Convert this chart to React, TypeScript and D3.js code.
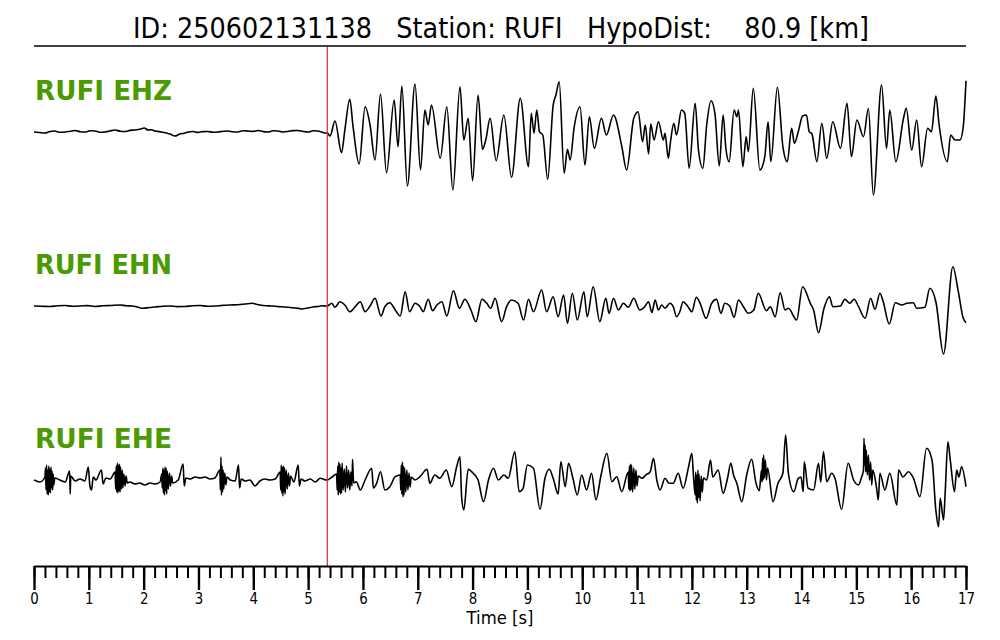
import React, { useEffect, useRef } from "react";
import * as d3 from "d3";

type Sample = [number, number]; // [time (s), amplitude]

const TITLE = "ID: 250602131138   Station: RUFI   HypoDist:    80.9 [km]";
const CHANNELS = ["RUFI EHZ", "RUFI EHN", "RUFI EHE"];
const PICK_TIME = 5.35;
const MAJOR_TICKS = [0, 1, 2, 3, 4, 5, 6, 7, 8, 9, 10, 11, 12, 13, 14, 15, 16, 17];
const X_LABEL = "Time [s]";

const EHZ: Sample[] = [
  [0.00, 0], [0.10, -0.5], [0.20, -1], [0.29, 0.5], [0.38, 1], [0.47, -0.3], [0.57, 0], [0.66, 0.8],
  [0.75, 1.5], [0.84, 0.3], [0.93, 0], [1.02, 1.2], [1.11, 1], [1.20, -0.2], [1.29, 0], [1.38, 1],
  [1.48, 2], [1.57, 0.8], [1.66, 0.5], [1.75, 1.6], [1.84, 2], [1.95, 3], [2.01, 4], [2.08, 2],
  [2.14, 2.3], [2.21, 1], [2.33, 0], [2.40, -0.8], [2.48, -2], [2.57, -4], [2.66, -2], [2.74, -1.2],
  [2.81, 0], [2.90, 0.5], [2.99, -0.5], [3.08, 0.4], [3.17, 0.5], [3.27, -0.3], [3.36, 0], [3.45, 0.8],
  [3.54, 1], [3.63, 0.2], [3.72, 0], [3.81, 1.3], [3.90, 1], [4.00, 0.6], [4.09, 1.5], [4.18, 0.4],
  [4.27, 0], [4.36, 1.2], [4.45, 1], [4.54, 0], [4.63, 0.5], [4.72, 1.4], [4.82, 1.5], [4.91, 0.5],
  [5.00, 0], [5.09, 1.2], [5.18, 1], [5.25, 0], [5.31, -1],
  [5.35, -1], [5.40, -4], [5.49, 11], [5.61, -20.7], [5.67, 2], [5.76, 32.7], [5.82, 5.3], [5.93, -32],
  [6.04, 25.3], [6.13, 7], [6.22, -28], [6.32, 38], [6.43, -40.7], [6.57, 32], [6.64, -14.7], [6.71, 46],
  [6.81, -54], [6.95, 48], [7.05, -38], [7.13, 22], [7.19, 7], [7.25, 27], [7.41, -26.3], [7.53, 25.3],
  [7.64, -58], [7.77, 45.3], [7.84, -8], [7.92, 13.7], [8.00, -48.7], [8.10, 37], [8.18, -17.3], [8.24, -8],
  [8.32, 13.7], [8.43, -28.7], [8.57, 17], [8.71, -45.3], [8.87, 33.7], [9.02, -34.7], [9.07, 18.7], [9.12, -1.3],
  [9.17, 22], [9.22, 0.3], [9.28, -3], [9.37, -47.3], [9.47, 27], [9.52, 37], [9.58, 50.3], [9.67, -41.3],
  [9.73, -17.3], [9.78, -28], [9.85, 3.7], [9.96, 25.3], [10.05, -33], [10.13, 15.3], [10.22, -16.3], [10.35, 13.7],
  [10.44, -3], [10.57, 17], [10.72, -14], [10.81, -38], [10.94, 13.7], [11.02, 20.3], [11.10, -9.7], [11.15, 7],
  [11.21, -22], [11.25, 8], [11.31, -8], [11.39, 10.3], [11.48, -8], [11.51, -1.3], [11.57, -26.3], [11.61, -9.7],
  [11.67, 8.7], [11.72, -3], [11.81, 22], [11.87, 18.7], [11.95, -36.3], [12.06, 28.7], [12.12, -18], [12.20, -36.3],
  [12.27, 7], [12.35, 31.3], [12.42, 18.7], [12.50, -34], [12.57, 17], [12.62, -16.3], [12.68, -29.7], [12.77, 22],
  [12.82, 15.3], [12.85, 22], [12.93, -34.7], [12.99, -4.7], [13.03, -19.7], [13.12, 43.7], [13.24, -38], [13.33, -24.7],
  [13.39, 10.3], [13.44, -29.7], [13.56, 44.7], [13.66, -14.7], [13.74, -29.7], [13.82, 3.7], [13.87, -11.3], [13.94, 0.3],
  [14.02, 16], [14.09, 17], [14.14, 0.3], [14.19, -2], [14.28, -29.7], [14.37, 8.7], [14.46, -26.3], [14.57, 10.3],
  [14.71, -16.3], [14.83, 28.7], [14.91, -24.7], [15.01, 12], [15.13, -4.7], [15.22, 23.7], [15.31, -63], [15.46, 47],
  [15.55, -16.3], [15.61, 22], [15.72, -29.7], [15.86, 13.7], [15.91, 23.7], [16.01, -18], [16.10, 12], [16.19, -34.7],
  [16.30, 3.7], [16.37, 0.3], [16.45, 36], [16.51, 7], [16.66, -29.7], [16.72, -3], [16.80, -8], [16.89, -8],
  [16.95, 5.3], [17.00, 51.3],
];

const EHN: Sample[] = [
  [0.00, 0], [0.15, -0.3], [0.29, -0.5], [0.43, 0.3], [0.57, 0.5], [0.70, -0.2], [0.84, 0], [0.98, 0.4],
  [1.11, -0.5], [1.25, 0.2], [1.39, 0.5], [1.57, 1], [1.68, 0.3], [1.79, 0], [1.90, -1.2], [1.99, -2.3],
  [2.10, -1.5], [2.21, -1], [2.35, -0.2], [2.48, 0], [2.61, -0.6], [2.75, -0.5], [2.89, 0.2], [3.03, 0.5],
  [3.16, -0.3], [3.30, 0], [3.44, 0.6], [3.58, 1], [3.72, 1.3], [3.85, 2], [3.98, 2.7], [4.05, 1.8],
  [4.12, 1], [4.23, 0.2], [4.34, 0], [4.46, -0.6], [4.58, -1], [4.67, -1.5], [4.76, -2], [4.83, -2.4],
  [4.89, -3], [4.97, -2.2], [5.04, -1.5], [5.11, -0.8], [5.18, -0.5], [5.25, 0.2], [5.31, 0],
  [5.35, 0], [5.43, 2.7], [5.49, -1.3], [5.58, 4.3], [5.67, 1], [5.76, -5.7], [5.86, -0.7], [5.95, 4.3],
  [6.04, -5.7], [6.13, 0], [6.22, 7.7], [6.33, -10], [6.40, -0.7], [6.49, 3.3], [6.59, -4], [6.68, -10],
  [6.77, 14.3], [6.85, -5.7], [6.95, 2.7], [7.04, -0.7], [7.10, -5.7], [7.19, 6.7], [7.27, -4.7], [7.35, 1],
  [7.44, 4.3], [7.53, -10], [7.65, 15.3], [7.76, -2.3], [7.86, 6.7], [7.97, -4], [8.06, -15.7], [8.17, 6.7],
  [8.26, 2.7], [8.33, -2.3], [8.41, 7.7], [8.53, -15.7], [8.62, -0.7], [8.71, 6], [8.83, 2.7], [8.93, -14],
  [9.02, 6.7], [9.11, -5.7], [9.26, 16], [9.35, -5.7], [9.47, 9.3], [9.56, -10.7], [9.66, 11], [9.73, -17.3],
  [9.82, 12.7], [9.91, -14], [10.03, 14.3], [10.09, -10.7], [10.20, 19.3], [10.32, -15.7], [10.43, 7.7], [10.49, -7.3],
  [10.57, 7.7], [10.66, -4], [10.75, 2.7], [10.84, -1.3], [10.94, 7.7], [11.05, -4], [11.14, -0.7], [11.21, 4.3],
  [11.27, -6.5], [11.33, 6], [11.39, -4], [11.45, 1], [11.51, -2.3], [11.60, 2.7], [11.66, -0.7], [11.72, -10.7],
  [11.78, -5.7], [11.84, 4.3], [11.92, 0], [12.00, -5.7], [12.08, 8.7], [12.15, 2.7], [12.26, -12.3], [12.36, 2.7],
  [12.45, 6.7], [12.53, -7.3], [12.60, 2.7], [12.69, 0], [12.77, -11.3], [12.85, 6], [12.94, -0.7], [13.03, -7.3],
  [13.13, -4], [13.21, 12.7], [13.36, -4.7], [13.43, -0.7], [13.52, -10.7], [13.61, 13.3], [13.70, -4], [13.76, -2.3],
  [13.91, -14], [14.02, 19.3], [14.16, 2.7], [14.22, -4], [14.31, -26.7], [14.41, -2.3], [14.51, 9.3], [14.57, -0.7],
  [14.71, 0], [14.79, 6.7], [14.88, 2.7], [14.96, 6.7], [15.04, -0.7], [15.16, -12.3], [15.26, 7.7], [15.34, -3.3],
  [15.43, 12.7], [15.49, 4.3], [15.60, -18], [15.71, 3.3], [15.83, 1], [15.92, 2.7], [16.04, 3.3], [16.10, -2.3],
  [16.25, -1.3], [16.34, 17.7], [16.45, 4.3], [16.59, -48], [16.76, 39.3], [16.86, 14.3], [16.95, -12.3], [17.00, -16.7],
];

const EHE: Sample[] = [
  [0.00, 0], [0.11, -2], [0.20, 3],
  [0.21, 12], [0.22, -10], [0.23, 15], [0.24, -14], [0.25, 10], [0.26, -15], [0.27, 14], [0.28, -12],
  [0.29, 11], [0.30, -13], [0.31, 13], [0.32, -8], [0.33, 9], [0.34, -10], [0.35, 6], [0.36, -5], [0.38, 2],
  [0.47, 0], [0.57, -2], [0.65, 9], [0.66, -14], [0.67, 4], [0.75, -1], [0.84, 1], [0.93, -1],
  [0.99, 13], [1.02, -6], [1.05, -10], [1.08, 3], [1.13, 0], [1.23, 10], [1.26, -4], [1.31, 2], [1.39, 1],
  [1.48, 8], [1.49, -9], [1.50, 14], [1.51, -12], [1.52, 17], [1.53, -13], [1.54, 15], [1.55, -11],
  [1.56, 16], [1.57, -12], [1.58, 13], [1.59, -9], [1.61, 10], [1.62, -8], [1.64, 6], [1.66, -6], [1.68, 4], [1.70, -3],
  [1.75, -2], [1.84, -4], [1.93, -3], [2.02, -5], [2.12, -3], [2.21, -4], [2.30, -2],
  [2.33, 6], [2.34, -8], [2.35, 12], [2.36, -13], [2.37, 10], [2.38, -15], [2.39, 13], [2.40, -11],
  [2.41, 12], [2.42, -14], [2.43, 9], [2.45, -9], [2.47, 7], [2.49, -6], [2.51, 4], [2.53, -3],
  [2.63, 0], [2.72, 16], [2.74, -6], [2.77, 2], [2.85, 1], [2.94, 3], [3.03, 2], [3.12, 3], [3.21, 1], [3.30, 2],
  [3.39, 10], [3.40, -10], [3.41, 23], [3.42, -15], [3.43, 14], [3.44, -12], [3.45, 10], [3.46, -9],
  [3.48, 7], [3.50, -5], [3.52, 3],
  [3.58, 0], [3.67, -1], [3.73, 15], [3.75, -8], [3.78, 1], [3.85, -1], [3.94, 0], [4.03, -6], [4.12, -1],
  [4.21, 1], [4.30, 0], [4.40, 1],
  [4.49, 8], [4.50, -10], [4.51, 15], [4.52, -13], [4.53, 13], [4.54, -16], [4.55, 14], [4.56, -12],
  [4.57, 12], [4.58, -14], [4.60, 10], [4.62, -9], [4.64, 7], [4.66, -6], [4.68, 4],
  [4.74, -2], [4.82, 15], [4.84, -6], [4.87, 1], [4.94, -1], [5.04, 1], [5.13, -2], [5.22, 1.7], [5.34, 0],
  [5.43, 2.7],
  [5.52, 6], [5.53, -10], [5.54, 14], [5.55, -15], [5.56, 18], [5.57, -12], [5.58, 16], [5.59, -14],
  [5.60, 12], [5.61, -13], [5.62, 17], [5.64, -10], [5.66, 11], [5.68, -12], [5.70, 14], [5.72, -8],
  [5.74, 10], [5.76, -10], [5.78, 8], [5.80, -6], [5.81, 20.7], [5.83, -3],
  [5.88, -1.7], [5.95, -10], [6.04, 0], [6.16, 11.7], [6.19, -8], [6.25, -3.3], [6.32, 8.3], [6.40, -10],
  [6.49, -6.7], [6.59, 3.3],
  [6.68, 5], [6.69, -10], [6.70, 15], [6.71, -14], [6.72, 18], [6.73, -17], [6.74, 14], [6.75, -15],
  [6.76, 12], [6.78, -12], [6.80, 10], [6.82, -10], [6.84, 7], [6.86, -7], [6.88, 3],
  [6.95, 0], [7.04, 3.3], [7.17, 10.7], [7.22, -3.3], [7.31, 5], [7.40, 1.7], [7.52, 10], [7.62, -6.7],
  [7.71, 13.3], [7.77, 23.3], [7.80, -16.7], [7.84, -30], [7.92, 10.7], [8.01, 6.7], [8.10, 0], [8.20, -21.7],
  [8.29, 0], [8.38, 11.7], [8.47, 0], [8.57, 5], [8.65, 1.7], [8.77, 28.3], [8.85, -11.7], [8.92, -8.3],
  [9.00, 15], [9.11, 11.7], [9.23, -29.3], [9.32, 1.7], [9.40, 10.7], [9.47, 1.7], [9.56, -14], [9.61, 18.3],
  [9.69, -6.7], [9.75, 16.7], [9.83, 1.7], [9.91, -15], [9.99, 5], [10.08, -10], [10.17, 6.7], [10.25, -20],
  [10.34, 4], [10.45, 26.7], [10.54, -1.7], [10.63, 3.3], [10.72, -11.7],
  [10.84, 8], [10.85, -9], [10.86, 14], [10.87, -11], [10.88, 16], [10.89, -10], [10.90, 15], [10.92, -12],
  [10.94, 12], [10.96, -9], [10.98, 10], [11.00, -6], [11.02, 4],
  [11.09, 1.7], [11.16, 5], [11.24, 8.3], [11.30, 21.7], [11.36, 0], [11.42, -10], [11.51, 1.7], [11.58, -3],
  [11.66, -3.3], [11.75, 6.7], [11.84, -8.3], [11.94, 13.3], [12.00, 26.7], [12.03, 3],
  [12.06, -15], [12.07, 8], [12.08, -20], [12.09, 5], [12.10, -23], [12.11, 10], [12.12, -18], [12.13, 6],
  [12.15, -21], [12.17, 4], [12.19, -12], [12.21, 2],
  [12.27, 0], [12.34, 20], [12.38, 3], [12.48, 10], [12.57, -13.3], [12.65, 1.7], [12.71, 16.7], [12.76, 5],
  [12.82, -3.3], [12.91, -21.7], [13.00, 5], [13.09, 20.7], [13.17, -3.3], [13.23, -10.7],
  [13.27, 10], [13.28, -2], [13.29, 22], [13.30, 0], [13.31, 25], [13.32, 2], [13.34, 20], [13.36, 0], [13.38, 12],
  [13.48, -21.7], [13.57, -3.3], [13.66, 6.7], [13.71, 45], [13.76, 6.7], [13.86, -11.7], [13.94, 1.7], [13.99, 3],
  [14.03, -11.7], [14.05, 18.3], [14.12, -8.3], [14.22, -10], [14.31, 16.7], [14.35, -2], [14.40, 28.3], [14.46, -1.7],
  [14.55, 6.7], [14.61, 1.7], [14.73, -29.3], [14.85, 16.7], [14.95, 0], [15.04, -5], [15.09, 2],
  [15.13, 10], [15.14, 41.7], [15.15, 15], [15.16, 35], [15.17, 8], [15.18, 30], [15.20, 5], [15.22, 25],
  [15.24, 0], [15.26, 18], [15.28, -5], [15.30, 10],
  [15.37, -8.3], [15.40, -20], [15.43, 6.7], [15.52, -10], [15.61, 6.7], [15.74, -25], [15.77, 10], [15.85, 3],
  [15.95, 8.3], [16.04, 2], [16.16, -16.7], [16.28, 31.7], [16.38, 20], [16.45, -30], [16.50, -46.7], [16.53, -18.3],
  [16.59, -40], [16.62, -13], [16.67, 38.3], [16.71, 21.7], [16.79, -11.7], [16.83, 10], [16.87, 3], [16.92, 13.3],
  [17.00, -6.7],
];

const TRACES = [EHZ, EHN, EHE];

export default function App() {
  const svgRef = useRef<SVGSVGElement>(null);

  useEffect(() => {
    if (!svgRef.current) return;
    document.body.style.margin = "0";

    const svg = d3.select(svgRef.current);
    svg.selectAll("*").remove();

    const font = "'DejaVu Sans', sans-serif";
    const left = 34;
    const right = 966;
    const axisY = 566;
    const centers = [132, 306, 480];

    const x = d3.scaleLinear().domain([0, 17]).range([left, right]);

    // Title + rule
    svg.append("text")
      .attr("x", 133)
      .attr("y", 38)
      .attr("font-family", font)
      .attr("font-size", 28)
      .attr("textLength", 736)
      .attr("lengthAdjust", "spacingAndGlyphs")
      .style("white-space", "pre")
      .text(TITLE);

    svg.append("line")
      .attr("x1", left).attr("x2", right)
      .attr("y1", 46).attr("y2", 46)
      .attr("stroke", "#000")
      .attr("stroke-width", 1.6);

    // Traces
    TRACES.forEach((data, i) => {
      const c = centers[i];
      const y = d3.scaleLinear().domain([-80, 80]).range([c + 80, c - 80]);
      const line = d3.line<Sample>()
        .x((d) => x(d[0]))
        .y((d) => y(d[1]))
        .curve(d3.curveMonotoneX);

      svg.append("path")
        .datum(data)
        .attr("fill", "none")
        .attr("stroke", "#000")
        .attr("stroke-width", 1.6)
        .attr("stroke-linejoin", "round")
        .attr("d", line);

      svg.append("text")
        .attr("x", 35)
        .attr("y", c - 32)
        .attr("font-family", font)
        .attr("font-weight", "bold")
        .attr("font-size", 27)
        .attr("fill", "#4a9a00")
        .attr("textLength", 137)
        .attr("lengthAdjust", "spacingAndGlyphs")
        .text(CHANNELS[i]);
    });

    // P pick
    svg.append("line")
      .attr("x1", x(PICK_TIME)).attr("x2", x(PICK_TIME))
      .attr("y1", 47).attr("y2", axisY)
      .attr("stroke", "#e3262b")
      .attr("stroke-width", 1.2);

    // Time axis: minor ticks every 0.2 s, major every second
    const minor = svg.append("g")
      .attr("transform", `translate(0,${axisY})`)
      .call(d3.axisBottom(x).ticks(85).tickSize(12).tickSizeOuter(0).tickFormat(() => ""));
    minor.select(".domain").attr("stroke-width", 2);
    minor.selectAll(".tick line").attr("stroke-width", 2);

    const major = svg.append("g")
      .attr("transform", `translate(0,${axisY})`)
      .call(d3.axisBottom(x).tickValues(MAJOR_TICKS).tickSize(24).tickSizeOuter(0).tickPadding(3).tickFormat(d3.format("d")));
    major.select(".domain").remove();
    major.selectAll(".tick line").attr("stroke-width", 2.4);
    major.selectAll<SVGTextElement, number>(".tick text")
      .attr("font-family", font)
      .attr("font-size", 16)
      .attr("fill", "#000")
      .attr("textLength", (d) => String(d).length * 8.5)
      .attr("lengthAdjust", "spacingAndGlyphs");

    svg.append("text")
      .attr("x", 500)
      .attr("y", 624)
      .attr("text-anchor", "middle")
      .attr("font-family", font)
      .attr("font-size", 17)
      .attr("textLength", 67)
      .attr("lengthAdjust", "spacingAndGlyphs")
      .text(X_LABEL);
  }, []);

  return (
    <svg
      ref={svgRef}
      width={1000}
      height={640}
      style={{ display: "block", background: "#fff" }}
    />
  );
}
